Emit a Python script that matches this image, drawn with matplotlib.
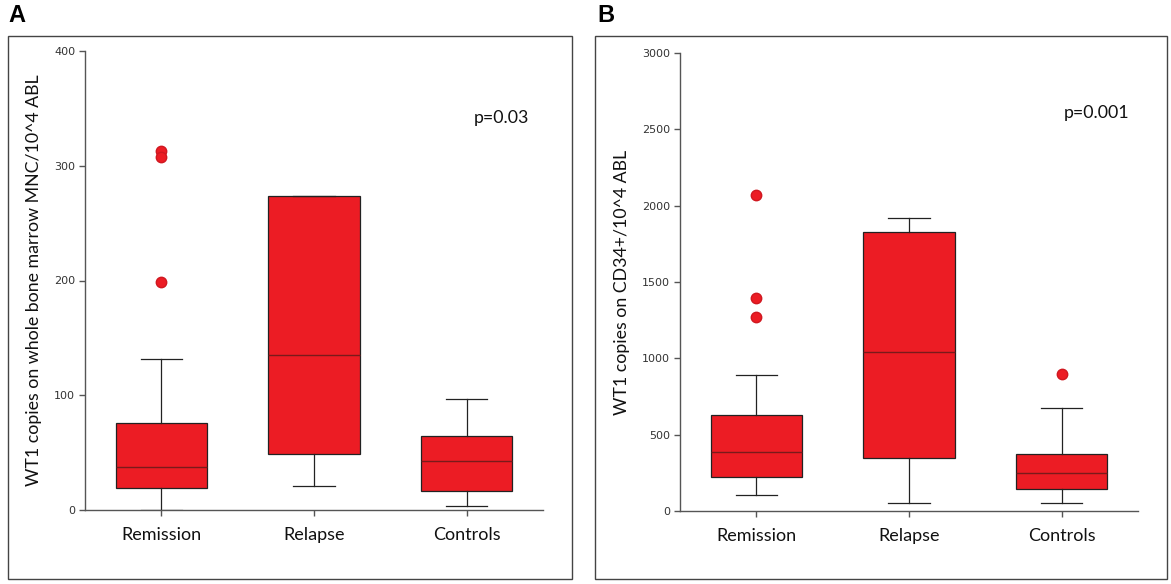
import matplotlib
matplotlib.use("Agg")
import matplotlib.pyplot as plt
from matplotlib.patches import Rectangle

# groups shown on both panels
groups = ["Remission", "Relapse", "Controls"]

# panel A: WT1 copies on whole bone marrow MNC / 10^4 ABL
a_whislo = [0, 21, 3.6]
a_q1 = [18.8, 48.4, 16.2]
a_med = [37.3, 134.7, 42.9]
a_q3 = [75.6, 274, 64.6]
a_whishi = [131.5, 274, 97]
a_fliers = [[313, 308, 199], [], []]

# panel B: WT1 copies on CD34+ / 10^4 ABL
b_whislo = [102, 54, 54]
b_q1 = [220, 346, 141]
b_med = [385, 1039, 249]
b_q3 = [632, 1827, 373]
b_whishi = [890, 1917, 676]
b_fliers = [[2071, 1395, 1268], [], [895]]

RED = "#EC1C24"
EDGE = "#222222"
AXC = "#555555"
TXT = "Lato"


def make_stats(lo, q1, med, q3, hi, fl):
    stats = []
    for i in range(len(groups)):
        stats.append({"whislo": lo[i], "q1": q1[i], "med": med[i], "q3": q3[i],
                      "whishi": hi[i], "fliers": fl[i], "label": groups[i]})
    return stats


def draw_panel(ax, stats, ymax, step, ylabel, ptext, py):
    ax.bxp(stats, positions=[1, 2, 3], widths=0.6, patch_artist=True,
           boxprops=dict(facecolor=RED, edgecolor=EDGE, linewidth=0.9),
           medianprops=dict(color="#7a1a1a", linewidth=1.0),
           whiskerprops=dict(color=EDGE, linewidth=0.9),
           capprops=dict(color=EDGE, linewidth=0.9),
           capwidths=0.27,
           flierprops=dict(marker="o", markerfacecolor=RED, markeredgecolor="#d01820",
                           markersize=7.5, linestyle="none"))
    ax.set_xlim(0.5, 3.5)
    ax.set_ylim(0, ymax)
    ax.set_yticks(range(0, ymax + 1, step))
    for s in ["top", "right"]:
        ax.spines[s].set_visible(False)
    for s in ["left", "bottom"]:
        ax.spines[s].set_color(AXC)
        ax.spines[s].set_linewidth(1.0)
    ax.spines["left"].set_bounds(0, ymax)
    ax.tick_params(axis="y", length=4, width=1, color=AXC, labelsize=8,
                   labelcolor="#333333", pad=3)
    ax.tick_params(axis="x", length=4, width=1, color=AXC, labelsize=13,
                   labelcolor="#111111", pad=8)
    for lab in ax.get_xticklabels():
        lab.set_family(TXT)
    ax.set_ylabel(ylabel, fontsize=12.8, family=TXT, color="#111111", labelpad=9)
    ax.text(3.23, py, ptext, fontsize=12.8, family=TXT, color="#111111",
            ha="center", va="center")
    ax.patch.set_alpha(0)


fig = plt.figure(figsize=(11.71, 5.84), dpi=100)
W, H = 1171.0, 584.0

# panel frames
fig.patches.append(Rectangle((8 / W, (H - 579) / H), 564 / W, 543 / H,
                             transform=fig.transFigure, fill=False,
                             edgecolor="#444444", linewidth=1.0))
fig.patches.append(Rectangle((595 / W, (H - 579) / H), 572 / W, 543 / H,
                             transform=fig.transFigure, fill=False,
                             edgecolor="#444444", linewidth=1.0))

axA = fig.add_axes([85 / W, (H - 510) / H, 458 / W, 459 / H])
axB = fig.add_axes([680 / W, (H - 511) / H, 458 / W, 458 / H])

draw_panel(axA, make_stats(a_whislo, a_q1, a_med, a_q3, a_whishi, a_fliers),
           400, 100, "WT1 copies on whole bone marrow MNC/10^4 ABL", "p=0.03", 342)
draw_panel(axB, make_stats(b_whislo, b_q1, b_med, b_q3, b_whishi, b_fliers),
           3000, 500, "WT1 copies on CD34+/10^4 ABL", "p=0.001", 2610)

fig.text(8 / W, 1 - 16 / H, "A", fontsize=17, fontweight="bold",
         family="Liberation Sans", va="center", ha="left")
fig.text(597 / W, 1 - 16 / H, "B", fontsize=17, fontweight="bold",
         family="Liberation Sans", va="center", ha="left")

fig.savefig("out.png", dpi=100)
